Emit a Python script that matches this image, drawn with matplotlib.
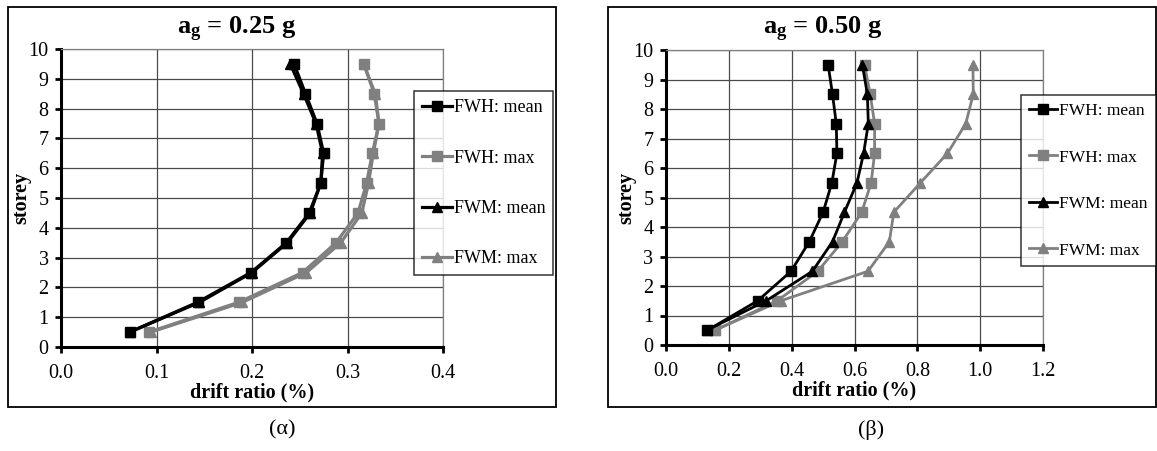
import numpy as np
import matplotlib
matplotlib.use("Agg")
import matplotlib.pyplot as plt
from matplotlib.patches import Rectangle

plt.rcParams['font.family'] = ['Liberation Serif', 'DejaVu Serif']
plt.rcParams['mathtext.fontset'] = 'custom'
plt.rcParams['mathtext.rm'] = 'Liberation Serif'
plt.rcParams['mathtext.bf'] = 'Liberation Serif:bold'
plt.rcParams['mathtext.it'] = 'Liberation Serif:italic'

storey = [0.5, 1.5, 2.5, 3.5, 4.5, 5.5, 6.5, 7.5, 8.5, 9.5]

# ag = 0.25 g
fwh_mean_25 = [0.072, 0.143, 0.199, 0.236, 0.260, 0.272, 0.275, 0.268, 0.256, 0.244]
fwh_max_25 = [0.092, 0.186, 0.253, 0.288, 0.311, 0.320, 0.326, 0.333, 0.328, 0.317]
fwm_mean_25 = [0.072, 0.145, 0.200, 0.237, 0.261, 0.272, 0.274, 0.267, 0.254, 0.240]
fwm_max_25 = [0.094, 0.190, 0.257, 0.293, 0.315, 0.322, 0.327, 0.333, 0.329, 0.317]

# ag = 0.50 g
fwh_mean_50 = [0.132, 0.292, 0.398, 0.456, 0.500, 0.528, 0.544, 0.542, 0.530, 0.516]
fwh_max_50 = [0.156, 0.354, 0.483, 0.561, 0.623, 0.653, 0.664, 0.664, 0.650, 0.632]
fwm_mean_50 = [0.130, 0.319, 0.466, 0.530, 0.568, 0.608, 0.629, 0.644, 0.641, 0.625]
fwm_max_50 = [0.156, 0.366, 0.643, 0.711, 0.725, 0.810, 0.896, 0.954, 0.978, 0.977]

labels = ['FWH: mean', 'FWH: max', 'FWM: mean', 'FWM: max']
grey = '#808080'
W, H = 1157, 451

fig = plt.figure(figsize=(W / 100, H / 100), dpi=100)


def px(x0, y0, x1, y1):
    # pixel box (top-left origin) -> figure fraction rect
    return [x0 / W, 1 - y1 / H, (x1 - x0) / W, (y1 - y0) / H]


def panel(rect, series, xmax, xstep, ms, lw, title, title_x,
          leg_xy, leg_fs, leg_ls, cap, cap_x, border):
    fig.patches.append(Rectangle(px(*border)[:2], *px(*border)[2:],
                                 transform=fig.transFigure, fill=False, ec='black', lw=1.3))
    ax = fig.add_axes(px(*rect))
    styles = [('black', 's'), (grey, 's'), ('black', '^'), (grey, '^')]
    handles = [None] * 4
    # grey "max" curves underneath, black "mean" curves on top
    for i in [1, 3, 0, 2]:
        c, m = styles[i]
        h, = ax.plot(series[i], storey, color=c, marker=m, ms=ms, lw=lw,
                     mec=c, mfc=c, label=labels[i], clip_on=False,
                     zorder=3 + (i in (0, 2)))
        handles[i] = h
    ax.set_xlim(0, xmax)
    ax.set_ylim(0, 10)
    ax.set_xticks(np.arange(0, xmax + 1e-9, xstep))
    ax.set_yticks(range(0, 11))
    ax.xaxis.set_major_formatter(matplotlib.ticker.FormatStrFormatter('%.1f'))
    ax.grid(True, color='#4a4a4a', lw=0.9, zorder=0)
    ax.set_axisbelow(True)
    for s in ('top', 'right'):
        ax.spines[s].set_color('#808080')
        ax.spines[s].set_linewidth(0.9)
    for s in ('left', 'bottom'):
        ax.spines[s].set_linewidth(2.2)
    ax.tick_params(axis='both', direction='out', length=4, width=2, labelsize=14.5)
    ax.tick_params(axis='x', pad=8)
    ax.tick_params(axis='y', pad=5)
    ax.set_xlabel('drift ratio (%)', fontsize=14.5, fontweight='bold', labelpad=0)
    ax.set_ylabel('storey', fontsize=14.5, fontweight='bold', labelpad=-2)

    leg = fig.legend(handles, labels, loc='upper left',
                     bbox_to_anchor=(leg_xy[0] / W, 1 - leg_xy[1] / H),
                     fontsize=leg_fs, frameon=True, fancybox=False,
                     edgecolor='black', borderpad=0.45, labelspacing=leg_ls,
                     handlelength=1.65, handletextpad=0.1, borderaxespad=0)
    leg.get_frame().set_linewidth(1.1)

    fig.text(title_x / W, 1 - 29 / H, title, fontsize=19, fontweight='bold',
             ha='center', va='center')
    fig.text(cap_x / W, 1 - 430 / H, cap, fontsize=16, ha='center', va='center')
    return ax


panel((61, 49, 443, 347), [fwh_mean_25, fwh_max_25, fwm_mean_25, fwm_max_25],
      0.4, 0.1, 7.5, 2.3, r'a$_\mathbf{g}$ = 0.25 g', 237,
      (414, 91), 13, 1.85, '(α)', 282, (7.5, 7, 556, 407))
panel((666, 50, 1043, 345), [fwh_mean_50, fwh_max_50, fwm_mean_50, fwm_max_50],
      1.2, 0.2, 6.5, 2.0, r'a$_\mathbf{g}$ = 0.50 g', 823,
      (1021, 95), 12.5, 1.75, '(β)', 871, (608, 7, 1156, 407))

fig.savefig('out.png', dpi=100)
